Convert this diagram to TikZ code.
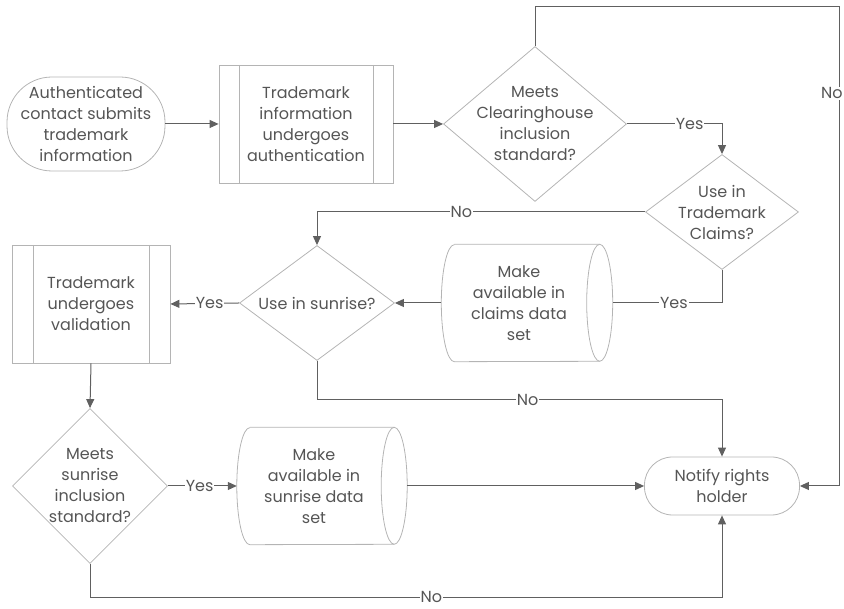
\documentclass[tikz,border=0pt]{standalone}
\usepackage{fontspec}
\setmainfont{Poppins}
\usetikzlibrary{shapes.geometric,arrows.meta}
\definecolor{txt}{HTML}{555555}
\definecolor{edgec}{HTML}{B4B4B4}
\definecolor{connc}{HTML}{606060}
\newcommand{\drawcyl}[1]{%
  \draw[shapeline] ([xshift=13pt]#1.north west) -- ([xshift=-13pt]#1.north east)
    arc[start angle=90, end angle=-90, x radius=13pt, y radius=58.5pt]
    -- ([xshift=13pt]#1.south west)
    arc[start angle=270, end angle=90, x radius=13pt, y radius=58.5pt];
  \draw[shapeline] ([xshift=-13pt]#1.north east)
    arc[start angle=90, end angle=270, x radius=13pt, y radius=58.5pt];}
\begin{document}
\begin{tikzpicture}[x=1pt,y=1pt,
 every node/.style={font=\fontsize{16}{21}\selectfont, text=txt, align=center},
 shapeline/.style={draw=edgec, line width=0.8pt},
 term/.style={shapeline, rectangle, inner sep=0pt},
 proc/.style={shapeline, rectangle, inner sep=0pt, path picture={\draw[edgec, line width=0.8pt] ([xshift=#1]path picture bounding box.north west) -- ([xshift=#1]path picture bounding box.south west) ([xshift=-#1]path picture bounding box.north east) -- ([xshift=-#1]path picture bounding box.south east);}},
 proc/.default=20pt,
 dec/.style={shapeline, diamond, inner sep=0pt},
 store/.style={rectangle, inner sep=0pt, minimum height=117pt},
 conn/.style={draw=connc, line width=1pt, -{Triangle[length=9pt,width=8pt]}},
 plain/.style={draw=connc, line width=1pt},
 lab/.style={fill=white, inner sep=1pt}
]
\useasboundingbox (0,0) rectangle (844,609);

\node[term, rounded corners=45pt, minimum width=158pt, minimum height=94pt] (start) at (86,485) {Authenticated\\contact submits\\trademark\\information};
\node[proc, minimum width=174pt, minimum height=118pt] (auth) at (306,485) {Trademark\\information\\undergoes\\authentication};
\node[dec, minimum width=183pt, minimum height=155pt, label={center:Meets\\Clearinghouse\\inclusion\\standard?}] (d1) at (535,485) {};
\node[dec, minimum width=153pt, minimum height=115pt, label={center:Use in\\Trademark\\Claims?}] (d2) at (722,397) {};
\node[store, minimum width=171pt, label={[xshift=-8pt]center:Make\\available in\\claims data\\set}] (cyl1) at (527,306) {};
\node[dec, minimum width=155pt, minimum height=115pt, label={center:Use in sunrise?}] (d3) at (317,306) {};
\node[proc=21pt, minimum width=158pt, minimum height=118pt] (val) at (91,305) {Trademark\\undergoes\\validation};
\node[dec, minimum width=155pt, minimum height=155pt, label={center:Meets\\sunrise\\inclusion\\standard?}] (d4) at (90,123) {};
\node[store, minimum width=170pt, label={[xshift=-8pt]center:Make\\available in\\sunrise data\\set}] (cyl2) at (322,123) {};
\node[term, rounded corners=28pt, minimum width=155pt, minimum height=58pt] (notify) at (722,123) {Notify rights\\holder};
\drawcyl{cyl1}
\drawcyl{cyl2}

\coordinate (rtop) at (839,602);
\coordinate (n2) at (722,209);
\coordinate (n3) at (722,11);

\draw[conn] (start.east) -- (auth.west);
\draw[conn] (auth.east) -- (d1.west);
\draw[conn] (d1.east) -| node[lab, pos=0.33]{Yes} (d2.north);
\draw[conn] (d1.north) |- (rtop) -- node[lab, pos=0.18, anchor=east, xshift=5pt]{No} (rtop |- notify.east) -- (notify.east);
\draw[conn] (d2.west) -| node[lab, pos=0.28]{No} (d3.north);
\draw[plain] (d2.south) |- node[lab, pos=0.72]{Yes} (cyl1.east);
\draw[conn] (cyl1.west) -- (d3.east);
\draw[conn] (d3.west) -- node[lab, pos=0.43]{Yes} (val.east);
\draw[conn] (d3.south) |- node[lab, pos=0.76]{No} (n2) -- (notify.north);
\draw[conn] (val.south) -- (d4.north);
\draw[conn] (d4.east) -- node[lab, pos=0.46]{Yes} (cyl2.west);
\draw[conn] (cyl2.east) -- (notify.west);
\draw[conn] (d4.south) |- node[lab, pos=0.77, inner sep=0.5pt, text height=9pt, text depth=0pt]{No} (n3) -- (notify.south);
\end{tikzpicture}
\end{document}
